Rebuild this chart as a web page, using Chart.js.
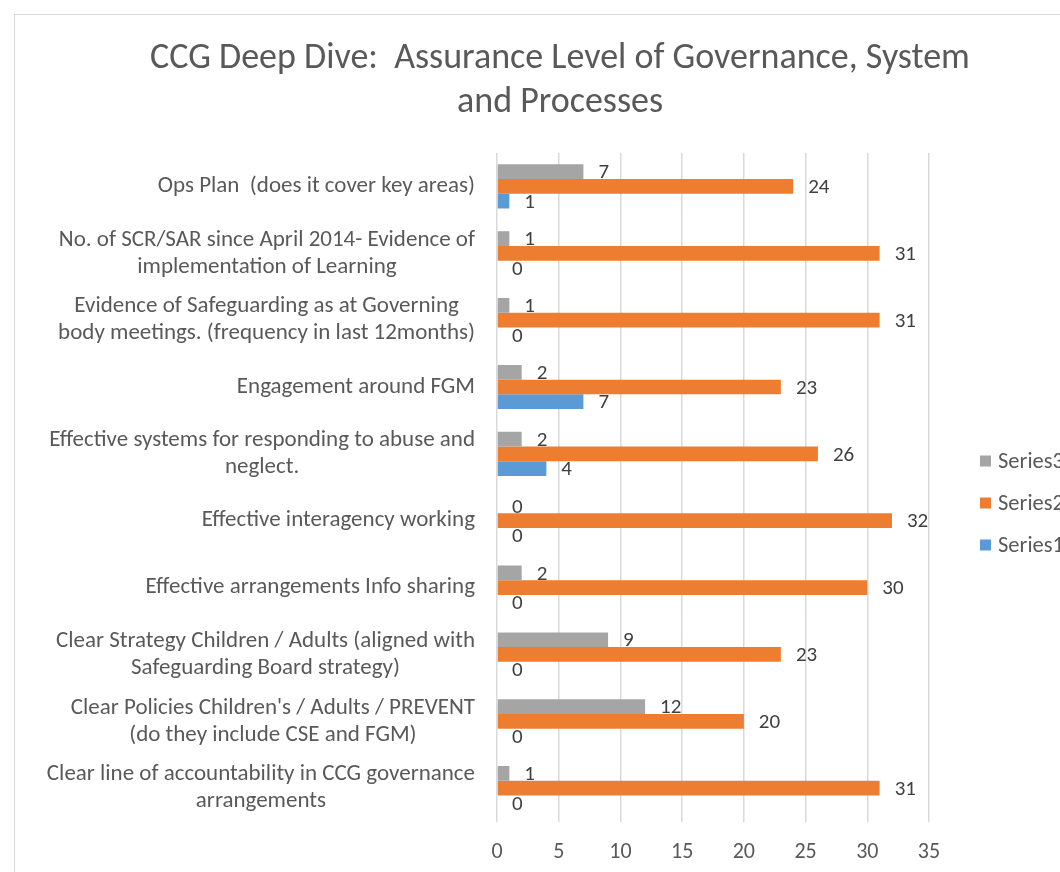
<!DOCTYPE html>
<html>
<head>
<meta charset="utf-8">
<script src="https://cdn.jsdelivr.net/npm/chart.js@4"></script>
<style>
    html, body { margin: 0; padding: 0; background: #fff; overflow: hidden; }
    .frame {
        position: absolute;
        left: 14px;
        top: 14px;
        border: 1px solid #d9d9d9;
        background: #fff;
    }
    canvas { display: block; }
</style>
</head>
<body>
<div class="frame">
    <canvas id="myChart" width="1090" height="976"></canvas>
</div>
<script>
const categories = [
    ['Ops Plan  (does it cover key areas)'],
    ['No. of SCR/SAR since April 2014- Evidence of', 'implementation of Learning'],
    ['Evidence of Safeguarding as at Governing', 'body meetings. (frequency in last 12months)'],
    ['Engagement around FGM'],
    ['Effective systems for responding to abuse and', 'neglect.'],
    ['Effective interagency working'],
    ['Effective arrangements Info sharing'],
    ['Clear Strategy Children / Adults (aligned with', 'Safeguarding Board strategy)'],
    ["Clear Policies Children's / Adults / PREVENT", '(do they include CSE and FGM)'],
    ['Clear line of accountability in CCG governance', 'arrangements'],
];

const series3 = [7, 1, 1, 2, 2, 0, 2, 9, 12, 1];
const series2 = [24, 31, 31, 23, 26, 32, 30, 23, 20, 31];
const series1 = [1, 0, 0, 7, 4, 0, 0, 0, 0, 0];

const xMax = 35;
const xStep = 5;

const FONT = 'Carlito, Lato, sans-serif';
const TEXT = '#595959';

const data = {
    labels: categories,
    datasets: [
        {
            label: 'Series3',
            backgroundColor: 'rgb(165, 165, 165)',
            data: series3,
        },
        {
            label: 'Series2',
            backgroundColor: 'rgb(237, 125, 49)',
            data: series2,
        },
        {
            label: 'Series1',
            backgroundColor: 'rgb(91, 155, 213)',
            data: series1,
        }
    ]
};

// value printed just past the end of each bar
const valueLabels = {
    id: 'valueLabels',
    afterDatasetsDraw(chart) {
        const ctx = chart.ctx;
        ctx.save();
        ctx.font = '21px ' + FONT;
        ctx.fillStyle = '#404040';
        ctx.textAlign = 'left';
        ctx.textBaseline = 'middle';
        chart.data.datasets.forEach((ds, i) => {
            chart.getDatasetMeta(i).data.forEach((bar, j) => {
                ctx.fillText(String(ds.data[j]), bar.x + 15, bar.y + 1.5);
            });
        });
        ctx.restore();
    }
};

// category names: lines centred on each other, block right-aligned to the axis
const categoryLabels = {
    id: 'categoryLabels',
    afterDraw(chart) {
        const ctx = chart.ctx;
        const y = chart.scales.y;
        const right = chart.chartArea.left - 22;
        const lineH = 27;
        ctx.save();
        ctx.font = '23px ' + FONT;
        ctx.fillStyle = TEXT;
        ctx.textAlign = 'center';
        ctx.textBaseline = 'middle';
        chart.data.labels.forEach((lines, i) => {
            const cy = y.getPixelForTick(i);
            const w = Math.max(...lines.map(l => ctx.measureText(l).width));
            const cx = right - w / 2;
            let ly = cy - (lines.length - 1) * lineH / 2;
            lines.forEach(l => {
                ctx.fillText(l, cx, ly);
                ly += lineH;
            });
        });
        ctx.restore();
    }
};

// legend to the right of the plot, centred on the chart height
const sideLegend = {
    id: 'sideLegend',
    afterDraw(chart) {
        const ctx = chart.ctx;
        const x = chart.chartArea.right + 51;
        const gap = 42;
        const sets = chart.data.datasets;
        const top = chart.height / 2 - (sets.length - 1) * gap / 2;
        ctx.save();
        ctx.font = '22.5px ' + FONT;
        ctx.textAlign = 'left';
        ctx.textBaseline = 'middle';
        sets.forEach((ds, i) => {
            const cy = top + i * gap;
            ctx.fillStyle = ds.backgroundColor;
            ctx.fillRect(x, cy - 5.5, 11, 11);
            ctx.fillStyle = TEXT;
            ctx.fillText(ds.label, x + 18, cy + 1);
        });
        ctx.restore();
    }
};

const config = {
    type: 'bar',
    data: data,
    options: {
        indexAxis: 'y',
        responsive: false,
        animation: false,
        devicePixelRatio: 1,
        layout: {
            padding: { left: 0, right: 0, top: 0, bottom: 107 }
        },
        datasets: {
            bar: {
                categoryPercentage: 0.66,
                barPercentage: 1
            }
        },
        scales: {
            x: {
                min: 0,
                max: xMax,
                border: { display: false },
                grid: {
                    color: '#d9d9d9',
                    lineWidth: 1.5,
                    drawTicks: false
                },
                ticks: {
                    stepSize: xStep,
                    padding: 18,
                    color: TEXT,
                    font: { family: FONT, size: 22 }
                },
                afterFit(scale) {
                    // room on the right for the legend
                    scale.paddingRight = 176;
                }
            },
            y: {
                border: { display: false },
                grid: { display: false },
                ticks: { display: false },
                afterFit(scale) {
                    scale.width = 482;
                }
            }
        },
        plugins: {
            legend: { display: false },
            tooltip: { enabled: false },
            title: {
                display: true,
                text: ['CCG Deep Dive:  Assurance Level of Governance, System', 'and Processes'],
                color: TEXT,
                font: { family: FONT, size: 36, weight: '300', lineHeight: 1.222 },
                padding: { top: 22, bottom: 28 }
            }
        }
    },
    plugins: [valueLabels, categoryLabels, sideLegend]
};

let myChart = new Chart(
    document.getElementById('myChart'),
    config
);
</script>
</body>
</html>
